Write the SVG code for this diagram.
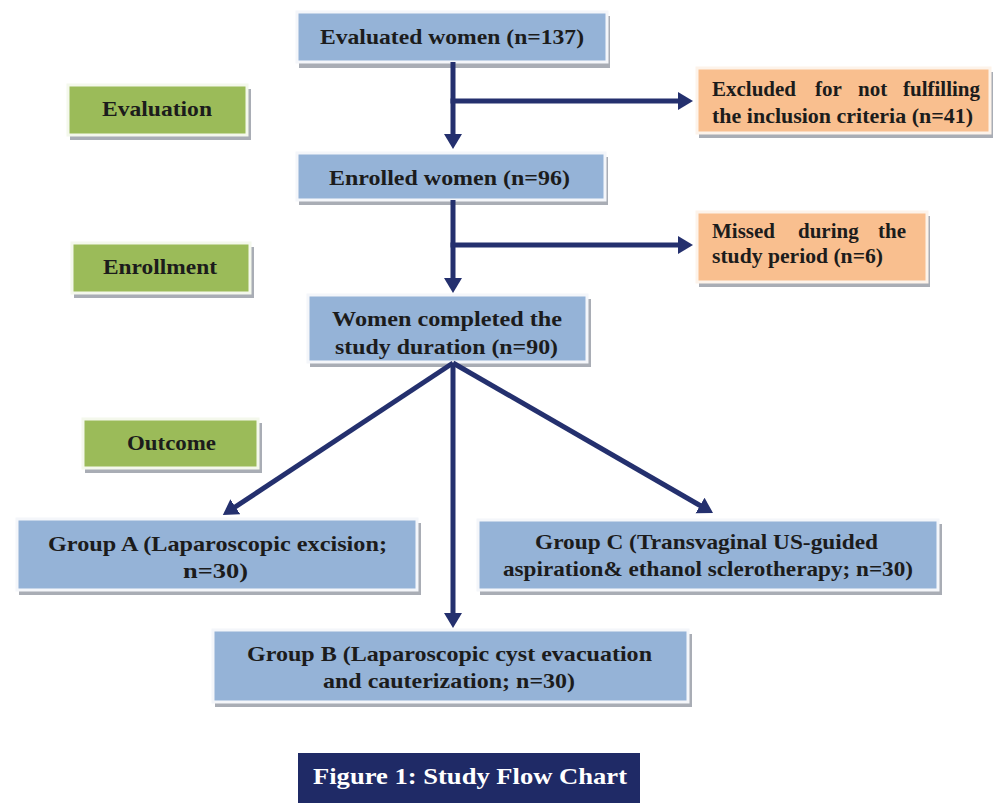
<svg xmlns="http://www.w3.org/2000/svg" width="1000" height="803" viewBox="0 0 1000 803">
<defs>
<marker id="ah" markerUnits="userSpaceOnUse" markerWidth="20" markerHeight="20" refX="4" refY="9" orient="auto">
<path d="M0,0 L15,9 L0,18 z" fill="#24306e"/>
</marker>
<style>
.sh{fill:#a9adb5;}
.blue{fill:#95b3d7;stroke:#f4f6fa;stroke-width:3;}
.orange{fill:#f9bf8f;stroke:#fdf3ea;stroke-width:3;}
.green{fill:#9bbb59;stroke:#f4f8ec;stroke-width:3;}
.t{font-family:"Liberation Serif","Times New Roman",serif;font-weight:bold;font-size:21px;fill:#1c1c1c;}
.cap{font-family:"Liberation Serif","Times New Roman",serif;font-weight:bold;font-size:23px;fill:#ffffff;}
.c{stroke:#24306e;stroke-width:5;fill:none;marker-end:url(#ah);}
</style>
</defs>
<rect width="1000" height="803" fill="#ffffff"/>

<g id="evaluated">
<rect class="sh" x="299" y="16" width="311" height="52"/>
<rect class="blue" x="297" y="12" width="310" height="50"/>
<text class="t" x="320" y="44" textLength="264" lengthAdjust="spacingAndGlyphs">Evaluated women (n=137)</text>
</g>

<g id="excluded">
<rect class="sh" x="699" y="72" width="294" height="66"/>
<rect class="orange" x="697" y="68" width="293" height="65"/>
<text class="t" y="96"><tspan x="712">Excluded</tspan><tspan x="815">for</tspan><tspan x="858">not</tspan><tspan x="903">fulfilling</tspan></text>
<text class="t" x="712" y="123" textLength="261" lengthAdjust="spacingAndGlyphs">the inclusion criteria (n=41)</text>
</g>

<g id="evaluation">
<rect class="sh" x="70" y="89" width="181" height="51"/>
<rect class="green" x="68" y="85" width="179" height="50"/>
<text class="t" x="102" y="116" textLength="110" lengthAdjust="spacingAndGlyphs">Evaluation</text>
</g>

<g id="enrolled">
<rect class="sh" x="299" y="157" width="309" height="48"/>
<rect class="blue" x="297" y="153" width="308" height="47"/>
<text class="t" x="329" y="185" textLength="241" lengthAdjust="spacingAndGlyphs">Enrolled women (n=96)</text>
</g>

<g id="missed">
<rect class="sh" x="699" y="216" width="231" height="71"/>
<rect class="orange" x="697" y="212" width="230" height="70"/>
<text class="t" y="238"><tspan x="712">Missed</tspan><tspan x="798">during</tspan><tspan x="878">the</tspan></text>
<text class="t" x="712" y="263" textLength="171" lengthAdjust="spacingAndGlyphs">study period (n=6)</text>
</g>

<g id="enrollment">
<rect class="sh" x="74" y="247" width="180" height="51"/>
<rect class="green" x="72" y="243" width="178" height="50"/>
<text class="t" x="103" y="274" textLength="114" lengthAdjust="spacingAndGlyphs">Enrollment</text>
</g>

<g id="completed">
<rect class="sh" x="310" y="299" width="281" height="68"/>
<rect class="blue" x="308" y="295" width="279" height="67"/>
<text class="t" x="332" y="326" textLength="230" lengthAdjust="spacingAndGlyphs">Women completed the</text>
<text class="t" x="335" y="354" textLength="223" lengthAdjust="spacingAndGlyphs">study duration (n=90)</text>
</g>

<g id="outcome">
<rect class="sh" x="85" y="423" width="177" height="50"/>
<rect class="green" x="83" y="419" width="175" height="49"/>
<text class="t" x="127" y="450" textLength="89" lengthAdjust="spacingAndGlyphs">Outcome</text>
</g>

<g id="groupA">
<rect class="sh" x="19" y="523" width="402" height="72"/>
<rect class="blue" x="17" y="519" width="400" height="71"/>
<text class="t" x="48" y="551" textLength="339" lengthAdjust="spacingAndGlyphs">Group A (Laparoscopic excision;</text>
<text class="t" x="183" y="578" textLength="65" lengthAdjust="spacingAndGlyphs">n=30)</text>
</g>

<g id="groupC">
<rect class="sh" x="480" y="524" width="462" height="71"/>
<rect class="blue" x="478" y="520" width="460" height="70"/>
<text class="t" x="535" y="549" textLength="343" lengthAdjust="spacingAndGlyphs">Group C (Transvaginal US-guided</text>
<text class="t" x="503" y="576" textLength="410" lengthAdjust="spacingAndGlyphs">aspiration&amp; ethanol sclerotherapy; n=30)</text>
</g>

<g id="groupB">
<rect class="sh" x="215" y="634" width="477" height="73"/>
<rect class="blue" x="213" y="630" width="475" height="72"/>
<text class="t" x="247" y="661" textLength="405" lengthAdjust="spacingAndGlyphs">Group B (Laparoscopic cyst evacuation</text>
<text class="t" x="323" y="688" textLength="252" lengthAdjust="spacingAndGlyphs">and cauterization; n=30)</text>
</g>

<g id="caption">
<rect x="298" y="753" width="342" height="50" fill="#1f2a66"/>
<text class="cap" x="313" y="784" textLength="314" lengthAdjust="spacingAndGlyphs">Figure 1: Study Flow Chart</text>
</g>

<g id="connectors">
<line class="c" x1="453" y1="62" x2="453" y2="138"/>
<line class="c" x1="450.5" y1="101" x2="682" y2="101"/>
<line class="c" x1="453" y1="200" x2="453" y2="282"/>
<line class="c" x1="450.5" y1="245" x2="682" y2="245"/>
<line class="c" x1="453" y1="363" x2="232" y2="509"/>
<line class="c" x1="453" y1="363" x2="453" y2="617"/>
<line class="c" x1="453" y1="363" x2="703.5" y2="507.5"/>
</g>
</svg>
